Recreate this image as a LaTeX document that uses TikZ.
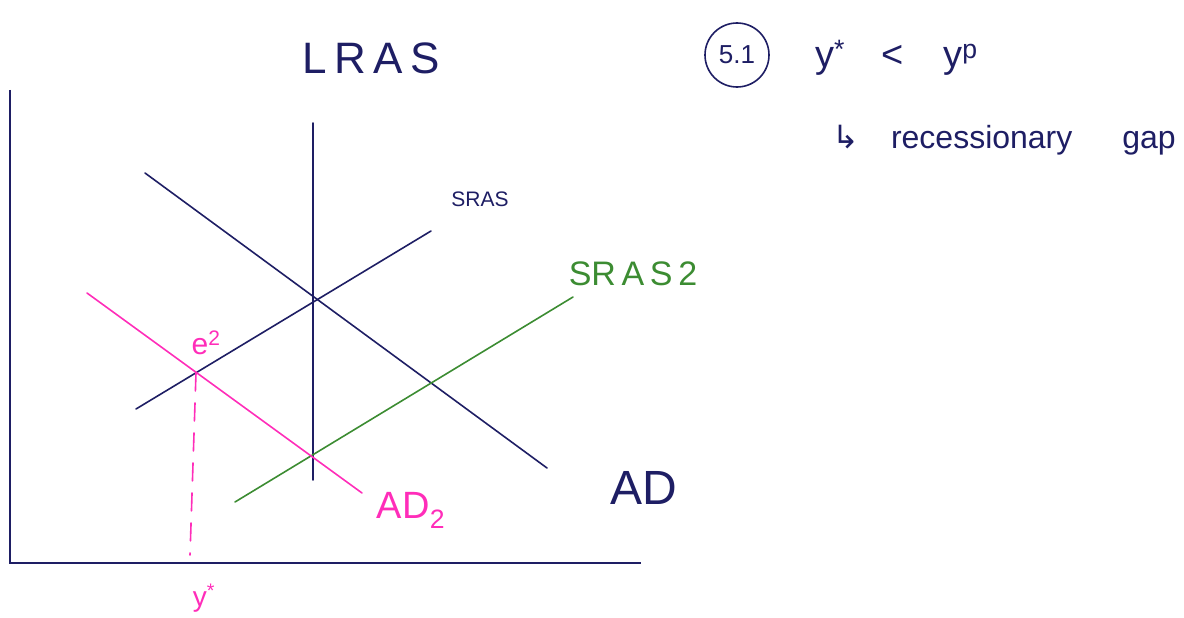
\documentclass[tikz,border=0pt]{standalone}
\usepackage{fontspec}
\setmainfont{Liberation Sans}
\newfontfamily\symfont{DejaVu Sans}
\usepackage{xcolor}
\usetikzlibrary{positioning,calc}

\definecolor{navy}{RGB}{30,30,100}
\definecolor{hotpink}{RGB}{255,45,185}
\definecolor{leaf}{RGB}{60,140,50}

\begin{document}
\begin{tikzpicture}[
  x=1pt, y=-1pt,
  curve/.style={line width=1.6pt, line cap=round},
  axis/.style={line width=1.6pt, navy},
  lbl/.style={inner sep=0pt},
]
\useasboundingbox (0,0) rectangle (1184,618);

% axes
\coordinate (O) at (10,563);
\draw[axis] (10,90) -- (O) -- (641,563);

% curves
\draw[curve, navy] (313,123) -- (313,480);
\draw[curve, navy] (145,173) -- (547,468);
\draw[curve, navy] (136,409) -- (431,231);
\draw[curve, leaf] (235,502) -- (573,297);
\draw[curve, hotpink] (87,293) -- (362,493);

% new equilibrium
\coordinate (E2) at (196,373);
\coordinate (Ystar) at (190,555);
\draw[curve, hotpink, dash pattern=on 18pt off 12pt] (E2) -- (Ystar);

% labels
\node[lbl, navy, font=\fontsize{44}{44}\selectfont] (lras) at (371,58) {L\,R\,A\,S};
\node[lbl, navy, font=\fontsize{21}{21}\selectfont] (sras) at (480,199) {SRAS};
\node[lbl, leaf, font=\fontsize{34}{34}\selectfont] (sras2) at (633,274) {SR\,A\,S\,2};
\node[lbl, navy, font=\fontsize{48}{48}\selectfont] (ad) at (644,488) {AD};
\node[lbl, hotpink, font=\fontsize{38}{38}\selectfont] (ad2) at (411,510) {AD\textsubscript{2}};
\node[lbl, hotpink, font=\fontsize{30}{30}\selectfont] (e2) at (206,343) {e\textsuperscript{2}};
\node[lbl, hotpink, font=\fontsize{28}{28}\selectfont] (ystar) at (204,598) {y\textsuperscript{*}};

% notes
\node[draw=navy, line width=1.6pt, circle, minimum size=64pt, navy,
  font=\fontsize{26}{26}\selectfont] (num) at (737,55) {5.1};
\node[lbl, navy, font=\fontsize{38}{38}\selectfont, anchor=west] (ineq) at (815,58)
  {y\textsuperscript{*}\hspace{36pt}<\hspace{40pt}y\textsuperscript{p}};
\node[lbl, navy, font=\fontsize{32}{32}\selectfont, anchor=west] (gap) at (832,140)
  {{\symfont ↳}\hspace{32pt}recessionary\hspace{50pt}gap};
\end{tikzpicture}
\end{document}
